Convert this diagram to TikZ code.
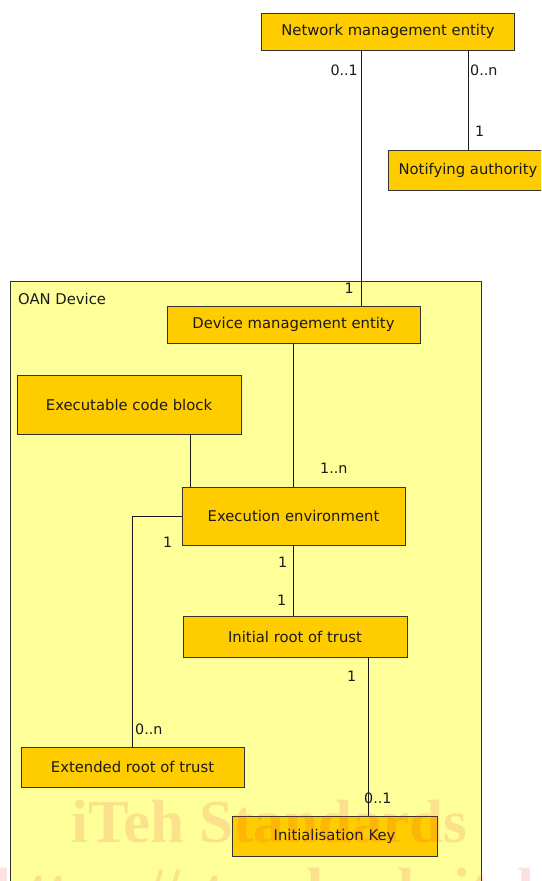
\documentclass[tikz,border=0pt]{standalone}
\usepackage{fontspec}
\setmainfont{DejaVu Sans}
\newfontfamily\wmfont{Liberation Serif}
\usetikzlibrary{calc}
\definecolor{boxfill}{HTML}{FFCC00}
\definecolor{devfill}{HTML}{FFFF99}
\definecolor{edge}{HTML}{333333}
\definecolor{ink}{HTML}{1A1A1A}
\definecolor{wmark}{HTML}{E63C3C}
\tikzset{
  entity/.style={draw=edge, fill=boxfill, line width=0.9pt, text=ink,
    font=\fontsize{14.8}{16}\selectfont, inner sep=0pt, anchor=center},
  assoc/.style={draw=ink, line width=0.8pt},
  mult/.style={text=ink, font=\fontsize{14.3}{16}\selectfont, inner sep=0pt},
  watermark/.style={text=wmark, opacity=0.15, font=\wmfont\bfseries\fontsize{61}{64}\selectfont,
    anchor=base west, inner sep=0pt}
}
\begin{document}
\begin{tikzpicture}[x=1pt,y=-1pt]
\useasboundingbox (0,0) rectangle (541,881);
\clip (0,0) rectangle (541,881);
\fill[white] (0,0) rectangle (541,881);

% container
\node[draw=edge, fill=devfill, line width=0.9pt, minimum width=471pt, minimum height=620pt,
  inner sep=0pt, anchor=north west] (oan) at (10,281) {};
\node[mult, anchor=west, font=\fontsize{14.8}{16}\selectfont] (oanlbl) at (18,299) {OAN Device};

% entities
\node[entity, minimum width=253pt, minimum height=37pt] (nme) at (388,31.5) {Network management entity};
\node[entity, minimum width=160pt, minimum height=40pt] (na) at (468,170) {Notifying authority};
\node[entity, minimum width=253pt, minimum height=37pt] (dme) at (293.5,324.5) {Device management entity};
\node[entity, minimum width=224pt, minimum height=59pt] (ecb) at (129,404.5) {Executable code block};
\node[entity, minimum width=223pt, minimum height=58pt] (ee) at (293.5,516) {Execution environment};
\node[entity, minimum width=224pt, minimum height=41pt] (irt) at (295,636.5) {Initial root of trust};
\node[entity, minimum width=223pt, minimum height=40pt] (ert) at (132.5,767) {Extended root of trust};
\node[entity, minimum width=205pt, minimum height=40pt] (ik) at (334.5,836) {Initialisation Key};

% associations
\draw[assoc] ([xshift=-27]nme.south) -- ([xshift=-27]nme.south |- dme.north);
\draw[assoc] ([xshift=80]nme.south) -- ([xshift=80]nme.south |- na.north);
\draw[assoc] (dme.south) -- (dme.south |- ee.north);
\draw[assoc] (ecb.south -| 190,0) -- (ee.north -| 190,0);
\draw[assoc] (ee.west) -- (ee.west -| ert.north) -- (ert.north);
\draw[assoc] (ee.south) -- (ee.south |- irt.north);
\draw[assoc] ([xshift=73]irt.south) -- ([xshift=73]irt.south |- ik.north);

% multiplicities
\node[mult, anchor=east] (m1) at (358,70) {0..1};
\node[mult, anchor=west] (m2) at (470,70) {0..n};
\node[mult, anchor=west] (m3) at (475,131) {1};
\node[mult, anchor=east] (m4) at (354,288) {1};
\node[mult, anchor=west] (m5) at (320,468) {1..n};
\node[mult, anchor=west] (m6) at (163,542) {1};
\node[mult, anchor=west] (m7) at (278,562) {1};
\node[mult, anchor=west] (m8) at (277,600) {1};
\node[mult, anchor=west] (m9) at (347,676) {1};
\node[mult, anchor=west] (m10) at (364,798) {0..1};
\node[mult, anchor=west] (m11) at (135,729) {0..n};

% translucent watermark over the diagram
\node[watermark] (wm1) at (71,842) {iTeh Standards};
\node[watermark] (wm2) at (-6,910) {https://standards.iteh.ai};
\end{tikzpicture}
\end{document}
